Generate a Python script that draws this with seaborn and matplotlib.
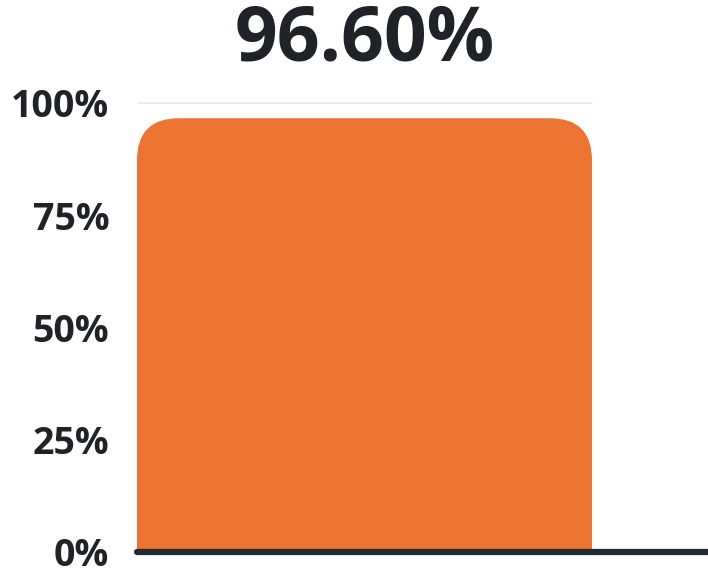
import numpy as np
import pandas as pd
import seaborn as sns
import matplotlib.pyplot as plt
from matplotlib.patches import FancyBboxPatch

#################### Data ####################

categories = ["Result"]
values = [96.60]
tick_values = [0, 25, 50, 75, 100]
tick_labels = ["0%", "25%", "50%", "75%", "100%"]
title_text = "96.60%"

df = pd.DataFrame({"category": categories, "value": values})

#################### Style ####################

sns.set_theme(style="white")
plt.rcParams['font.family'] = ['Open Sans', 'DejaVu Sans']

bar_color = '#EC7332'
text_color = '#1f2328'

fig = plt.figure(figsize=(7.08, 5.75), dpi=100)
ax = fig.add_axes([137 / 708, 23 / 575, 571 / 708, 458 / 575])

#################### Plot ####################

sns.barplot(data=df, x="category", y="value", color=bar_color, width=1.0,
            saturation=1, ax=ax)

ax.set_xlim(-0.5, -0.5 + 571 / 455)
ax.set_ylim(0, 102)

# swap the square bar for one with rounded top corners
fig.canvas.draw()
px_x = ax.transData.transform((1, 0))[0] - ax.transData.transform((0, 0))[0]
px_y = ax.transData.transform((0, 1))[1] - ax.transData.transform((0, 0))[1]
aspect = px_x / px_y
radius = 42 / px_x
for bar in list(ax.patches):
    x0, w, h = bar.get_x(), bar.get_width(), bar.get_height()
    bar.remove()
    extra = radius * aspect
    rounded = FancyBboxPatch((x0, -extra), w, h + extra,
                             boxstyle=f"round,pad=0,rounding_size={radius}",
                             mutation_aspect=aspect, facecolor=bar_color,
                             edgecolor='none', zorder=2)
    ax.add_patch(rounded)

ax.axhline(100, xmin=0, xmax=455 / 571, color='#e6e7ec', lw=1.2, zorder=1)
ax.axhline(0, color='#232a31', lw=4.5, zorder=3, clip_on=False)

ax.text(0, 109.5, title_text, ha='center', va='baseline', fontsize=54,
        fontweight='bold', color=text_color)

ax.set_yticks(tick_values)
ax.set_yticklabels(tick_labels, fontsize=27, fontweight='bold', color=text_color)
ax.tick_params(axis='y', length=0, pad=20)
ax.set_xticks([])
ax.set_xlabel("")
ax.set_ylabel("")
sns.despine(ax=ax, left=True, bottom=True)

fig.savefig('out.png', dpi=100)
